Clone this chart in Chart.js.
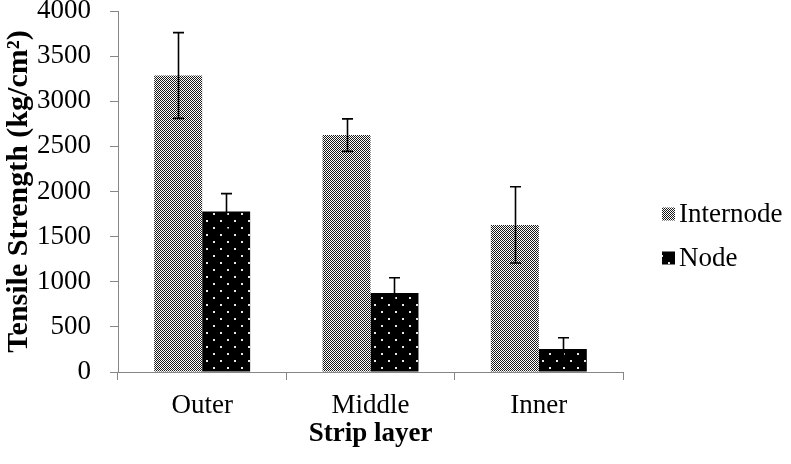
<!DOCTYPE html>
<html>
<head>
<meta charset="utf-8">
<script src="https://cdn.jsdelivr.net/npm/chart.js@4/dist/chart.umd.min.js"></script>
<style>
  html, body { margin: 0; padding: 0; background: #fff; }
  #wrap { width: 791px; height: 464px; }
</style>
</head>
<body>
<div id="wrap"><canvas id="chart" width="791" height="464"></canvas></div>
<script>
// -- data
const categories = ["Outer", "Middle", "Inner"];
const internode = [3285, 2625, 1630];
const internodeErr = [475, 180, 423];
const node = [1778, 874, 254];
const nodeErr = [198, 170, 125];
const yTicks = [0, 500, 1000, 1500, 2000, 2500, 3000, 3500, 4000];

const FONT = "'Liberation Serif', 'Times New Roman', serif";
const AXIS_GREY = "#868686";

// -- fill patterns
function checkerPattern() {
  const c = document.createElement("canvas");
  c.width = 2; c.height = 2;
  const g = c.getContext("2d");
  g.fillStyle = "#ffffff";
  g.fillRect(0, 0, 2, 2);
  g.fillStyle = "#1a1a1a";
  g.fillRect(0, 0, 1, 1);
  g.fillRect(1, 1, 1, 1);
  return g.createPattern(c, "repeat");
}
function dotPattern() {
  const c = document.createElement("canvas");
  c.width = 14; c.height = 14;
  const g = c.getContext("2d");
  g.fillStyle = "#000000";
  g.fillRect(0, 0, 14, 14);
  g.fillStyle = "#e8e8e8";
  g.fillRect(3, 3, 2, 2);
  g.fillRect(10, 10, 2, 2);
  return g.createPattern(c, "repeat");
}

const errors = [internodeErr, nodeErr];

// error bars drawn from the dataset values through the y scale
const errorBars = {
  id: "errorBars",
  afterDatasetsDraw(chart) {
    const ctx = chart.ctx;
    const y = chart.scales.y;
    ctx.save();
    ctx.strokeStyle = "#000";
    ctx.lineWidth = 1.6;
    chart.data.datasets.forEach((ds, i) => {
      const meta = chart.getDatasetMeta(i);
      meta.data.forEach((bar, j) => {
        const v = ds.data[j], e = errors[i][j];
        const top = y.getPixelForValue(v + e);
        const bot = y.getPixelForValue(Math.max(0, v - e));
        const x = Math.round(bar.x) + 0.5;
        ctx.beginPath();
        ctx.moveTo(x, top); ctx.lineTo(x, bot);
        ctx.moveTo(x - 5.5, top); ctx.lineTo(x + 5.5, top);
        ctx.moveTo(x - 5.5, bot); ctx.lineTo(x + 5.5, bot);
        ctx.stroke();
      });
    });
    ctx.restore();
  },
};

// legend on the right, box close to the text
const sideLegend = {
  id: "sideLegend",
  afterDraw(chart) {
    const ctx = chart.ctx;
    ctx.save();
    ctx.font = "27px " + FONT;
    ctx.textBaseline = "middle";
    ctx.fillStyle = "#000";
    chart.data.datasets.forEach((ds, i) => {
      const cy = 214 + i * 44;
      ctx.fillStyle = ds.backgroundColor;
      ctx.fillRect(662, cy - 6.5, 13, 13);
      ctx.fillStyle = "#000";
      ctx.fillText(ds.label, 679, cy + 1);
    });
    ctx.restore();
  },
};

window.addEventListener("load", () => {
  const ctx = document.getElementById("chart").getContext("2d");
  new Chart(ctx, {
    type: "bar",
    data: {
      labels: categories,
      datasets: [
        {
          label: "Internode",
          data: internode,
          backgroundColor: checkerPattern(),
          borderWidth: 0,
        },
        {
          label: "Node",
          data: node,
          backgroundColor: dotPattern(),
          borderWidth: 0,
        },
      ],
    },
    options: {
      responsive: false,
      animation: false,
      devicePixelRatio: 1,
      layout: { padding: { left: 0, right: 168, top: 11, bottom: 0 } },
      datasets: { bar: { categoryPercentage: 0.57, barPercentage: 1.0 } },
      plugins: {
        legend: { display: false },
        tooltip: { enabled: false },
      },
      scales: {
        x: {
          offset: true,
          grid: {
            offset: true,
            drawOnChartArea: false,
            drawTicks: true,
            tickLength: 8,
            color: AXIS_GREY,
          },
          border: { color: AXIS_GREY, width: 1 },
          ticks: { color: "#000", font: { family: FONT, size: 27 }, padding: 10 },
          title: {
            display: true,
            text: "Strip layer",
            color: "#000",
            font: { family: FONT, size: 27, weight: "bold" },
            padding: { top: 4, bottom: 14 },
          },
          afterFit(s) {
            s.height = 92;
          },
        },
        y: {
          min: 0,
          max: 4000,
          afterBuildTicks(s) {
            s.ticks = yTicks.map((v) => ({ value: v }));
          },
          grid: {
            drawOnChartArea: false,
            drawTicks: true,
            tickLength: 8,
            color: AXIS_GREY,
          },
          border: { color: AXIS_GREY, width: 1 },
          ticks: {
            color: "#000",
            font: { family: FONT, size: 27 },
            padding: 19,
            callback: (v) => String(v),
          },
          title: {
            display: true,
            text: "Tensile Strength (kg/cm²)",
            color: "#000",
            font: { family: FONT, size: 30, weight: "bold" },
            padding: 1,
          },
          afterFit(s) {
            s.width = 118;
            s.paddingTop = 0;
            s.paddingBottom = 0;
          },
        },
      },
    },
    plugins: [errorBars, sideLegend],
  });
});
</script>
</body>
</html>
